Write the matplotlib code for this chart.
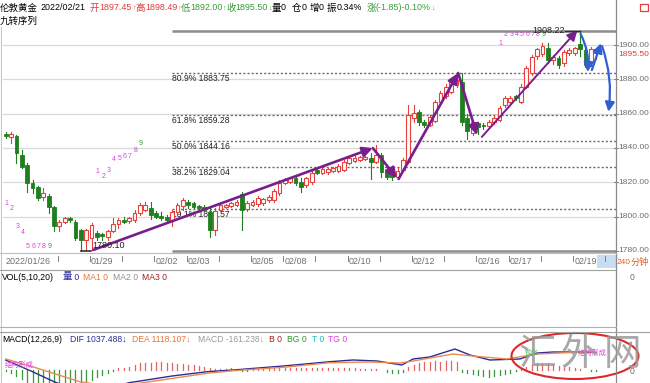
import matplotlib
matplotlib.use('Agg')
import matplotlib.pyplot as plt
from matplotlib import font_manager
from matplotlib.patches import Rectangle, Ellipse
from matplotlib.lines import Line2D

# ---------------- data ----------------
opens = [1848, 1846.5, 1847, 1836, 1830, 1819.7, 1817.2, 1811.3, 1812, 1805.7,
         1794.5, 1797, 1798.9, 1797, 1792, 1786.3, 1787.3, 1790.6, 1789.6, 1788.3,
         1791.5, 1795.6, 1798, 1797.4, 1798, 1801.9, 1804, 1804.8, 1801.9, 1800.3,
         1799.6, 1798, 1802.8, 1806, 1808.6, 1807.8, 1806, 1805.4, 1802.8, 1792.1,
         1803.8, 1805.7, 1806.3, 1806.7, 1813.1, 1804.2, 1806.7, 1807.3, 1807.7, 1809.6,
         1809.6, 1813.5, 1819.7, 1820.3, 1822.3, 1820.3, 1818.4, 1820.3, 1827.1, 1825.5,
         1826, 1826.5, 1826.5, 1827.1, 1831, 1832.5, 1833, 1833.3, 1834, 1832,
         1835.9, 1827.5, 1825.5, 1822.9, 1827.1, 1832, 1857.4, 1860.9, 1855, 1853.4,
         1855.6, 1866.8, 1870.2, 1872.8, 1876.7, 1878.6, 1857.5, 1848.5, 1854.3, 1853.5,
         1852.5, 1855, 1856.3, 1865, 1867, 1870.2, 1867, 1875.7, 1883.5, 1893.6,
         1894.5, 1898, 1891.3, 1892.3, 1889.3, 1895.2, 1895.2, 1900.4, 1897.1, 1888.3,
         1897.45]
highs = [1849, 1849, 1847.5, 1838.8, 1831, 1821.3, 1817.8, 1816.4, 1813, 1806,
         1798, 1799.9, 1799.9, 1798, 1793, 1793, 1796, 1791.5, 1790.2, 1792,
         1799, 1799, 1799.8, 1800, 1803.8, 1808, 1808.5, 1808.6, 1803, 1802.5,
         1800.9, 1803.8, 1808, 1810.6, 1809.6, 1808.6, 1806.7, 1806.5, 1804.8, 1804.8,
         1807.5, 1807.5, 1808.5, 1809.6, 1814.5, 1809, 1809.6, 1812, 1811, 1812.5,
         1816, 1821.3, 1822.3, 1823.3, 1823.3, 1822.3, 1823.3, 1826.5, 1828, 1828.5,
         1828.5, 1829, 1830.4, 1833, 1835, 1835, 1835.5, 1835.5, 1837, 1841.5,
         1837, 1829, 1826.5, 1828, 1834, 1865, 1865, 1862, 1856.3, 1859,
         1868, 1873, 1877, 1879.6, 1883.7, 1883.5, 1860, 1856.3, 1855, 1854.3,
         1856.5, 1858.5, 1864.5, 1870, 1870.2, 1871, 1877, 1888, 1894.2, 1898.5,
         1901, 1901.3, 1894, 1893.5, 1897, 1898, 1899, 1908.22, 1899, 1899,
         1898.49]
lows = [1846, 1843, 1831.2, 1828.3, 1814.5, 1813.5, 1809.6, 1809.6, 1802, 1791.5,
        1791.8, 1796, 1797, 1786.3, 1780.1, 1780.5, 1781.5, 1786.3, 1786.3, 1786.3,
        1791, 1793.3, 1796.4, 1796.4, 1797, 1800.9, 1803, 1798.4, 1799, 1798,
        1797, 1794.2, 1801, 1804, 1805, 1805, 1803.8, 1803, 1788.3, 1789.2,
        1803, 1805, 1805.5, 1806, 1792.1, 1803, 1806, 1806, 1807, 1808.6,
        1808.6, 1812.5, 1819, 1819.7, 1818.4, 1814.5, 1817, 1819, 1824.5, 1824.5,
        1825, 1826, 1826, 1826.5, 1830.4, 1832, 1832.5, 1833, 1822, 1831,
        1823, 1822, 1821, 1821.7, 1826.5, 1831, 1855, 1853.4, 1852, 1852.5,
        1855, 1866, 1869, 1872, 1875.7, 1853.4, 1845, 1847.5, 1848, 1851,
        1851.5, 1854, 1855.5, 1864, 1866, 1868, 1866, 1874.8, 1882.5, 1892,
        1893.5, 1889.3, 1889, 1886.4, 1887.5, 1894, 1894.2, 1893.5, 1887.4, 1888,
        1892]
closes = [1847, 1848.2, 1837, 1829, 1819.3, 1816.4, 1810.6, 1813.5, 1805.7, 1794.5,
          1797, 1798.9, 1798, 1787.3, 1786.5, 1792, 1795, 1788.3, 1788.6, 1791.5,
          1795.6, 1798, 1797, 1799, 1801.9, 1806.7, 1806.5, 1800.9, 1799.6, 1799,
          1798, 1802.8, 1806.5, 1809.6, 1806.7, 1805.7, 1804.8, 1803.8, 1792.1, 1803.2,
          1806.7, 1806.5, 1807.9, 1808.6, 1803.8, 1807.7, 1808.6, 1810.6, 1810, 1811.5,
          1815, 1819.7, 1821.3, 1822.3, 1819.4, 1817.4, 1822.3, 1825.2, 1825.2, 1827.5,
          1827.5, 1828, 1829.4, 1832, 1834, 1834, 1834.5, 1834.5, 1832, 1835.9,
          1826.1, 1823.2, 1822.9, 1826.8, 1832.9, 1859.2, 1860.3, 1855, 1853.4, 1858,
          1866.8, 1872, 1875.7, 1878.6, 1879.6, 1855.3, 1850, 1855.3, 1852, 1852.5,
          1855.3, 1857.4, 1863.3, 1868.9, 1868.9, 1868.9, 1875.7, 1886.4, 1893.2, 1897.5,
          1899.5, 1891.3, 1893, 1888.4, 1896.1, 1897.1, 1898.1, 1897.9, 1888.3, 1897.5,
          1895.5]

first_date = '2022/01/26'
date_ticks = [10, 16, 22, 28, 34, 40, 46, 52, 58, 64, 70, 76, 82, 88, 94, 100, 106, 112]
date_labels = ['', '01/29', '', '02/02', '02/03', '', '02/05', '02/08', '', '02/10',
               '', '02/12', '', '02/16', '02/17', '', '02/19', '']

price_ticks = [1900, 1880, 1860, 1840, 1820, 1800, 1780]
fib_pcts = ['80.9%', '61.8%', '50.0%', '38.2%', '19.1%']
fib_vals = [1883.75, 1859.28, 1844.16, 1829.04, 1804.57]
fib_high, fib_low = 1908.22, 1780.10
high_idx, low_idx = 107, 14
fib_start = 31
last_close = 1895.50

# nine-turn (九转) sequence numbers: candle index, number, label price level
seq_idx = [0, 1, 2, 3, 4, 5, 6, 7, 8,
           17, 18, 19, 20, 21, 22, 23, 24, 25,
           92, 93, 94, 95, 96, 97, 98, 99, 100]
seq_num = [1, 2, 3, 4, 5, 6, 7, 8, 9] * 3
seq_lvl = [1807.3, 1804.4, 1793.9, 1790.4, 1782.5, 1782.8, 1782.8, 1782.8, 1782.8,
           1826.5, 1823.2, 1826.7, 1833.5, 1834.1, 1834.7, 1834.9, 1838.4, 1842.7,
           1900.6, 1906.4, 1906.4, 1906.4, 1906.4, 1906.4, 1906.4, 1906.4, 1906.4]

# drawn trend arrows: (start index, start price, end index, end price)
purple_arrows = [(16.3, 1780.5, 68.4, 1839.9),
                 (68.4, 1839.9, 72.9, 1822.4),
                 (73.2, 1821.9, 84.3, 1883.7),
                 (84.3, 1883.7, 87.8, 1847.5),
                 (88.7, 1846.4, 106.5, 1908.6)]
blue_arrows = [(107.1, 1906.5, 108.4, 1884.3),
               (109.2, 1885.4, 110.9, 1901.0),
               (111.1, 1899.4, 112.3, 1861.1)]

# MACD panel
macd_hist = [-1, -3, -6, -9, -12, -16, -18, -20, -21, -21, -20, -19, -18, -16, -14, -11.7,
             -10, -7.3, -5, -3.3, -0.5,
             1.7, 2.3, 3.3, 5, 6.7, 7.3, 7.3, 7.7, 7.7, 7.3, 6.7, 6, 5.7, 5, 5, 4.3, 2.7,
             2, 1, 1.5, 1.5, 2, 1.5, -1, -1, 1, 1.5, 1.5, 2, 2, 2.5, 2.5, 2.5, 2, 2, 2, 2,
             2.5, 2, 2,
             2, 2, 2, 2, 2, 1.5, 1.5, 1, 1, 0.5, -2, -2.7, -3, -2,
             3, 5, 6.7, 8.3, 8.3, 9.3, 8.3, 9.3, 9.3, 8.3,
             -1.5, -3.3, -4, -5, -6, -6.7, -6, -5, -4, -2.7, -1,
             1.5, 3.3, 5, 7.3, 7.3, 6.7, 5.7, 4, 3.3, 2.7, 1.7, 1, 0.5, -1, -1]
dif_x = [0, 5, 9, 14, 18, 23, 31, 37.5, 42.4, 51.7, 60.4, 64.7, 69.2, 73.8, 75.9, 79,
         83.7, 86.5, 90.2, 95.8, 99, 102, 107, 110]
dif_y = [10, -1.7, -11.7, -22, -20, -12.7, -6, -1.7, 0, 4, 8.3, 10, 9, 5, 11, 13,
         21, 15, 10, 11, 17, 18, 18, 17.5]
dea_x = [0, 5, 13.8, 20, 25.6, 37.5, 42.4, 51.7, 60.4, 67.9, 73.5, 75.9, 83.3, 87,
         93.4, 99, 103.3, 107, 110]
dea_y = [11, 3.3, -11.7, -17, -12.7, -3.3, -0.7, 2.7, 7.3, 8, 7, 9, 16, 14,
         11, 16, 17, 18, 18]

# ---------------- styling ----------------
W, H = 650, 383
RED = '#e8403c'
GRN = '#1f7f1f'
TXT_RED = '#e23b3b'
TXT_GRN = '#3a9a3a'
GRID = '#d9d9d9'
PURPLE = '#7a1d8c'
BLUE = '#2f5fd0'
MAG = '#e040e0'

_names = {f.name for f in font_manager.fontManager.ttflist}
NARROW = 'Liberation Sans Narrow' in _names
LAT = 'Liberation Sans Narrow' if NARROW else 'Liberation Sans'
K = 1.0 if NARROW else 0.84          # keep the same text widths with either font
FAM = [LAT, 'Liberation Sans', 'Noto Sans CJK SC']
plt.rcParams['font.family'] = FAM
FS = 7.4 * K       # general Latin label size
CJ = 6.8           # Chinese characters

fig = plt.figure(figsize=(6.5, 3.83), dpi=100)
fig.patch.set_facecolor('white')
renderer = fig.canvas.get_renderer()


def rect(x0, y0, x1, y1):
    return [x0 / W, 1 - y1 / H, (x1 - x0) / W, (y1 - y0) / H]


def ftext(x, y, s, color='black', size=FS, ha='left', **kw):
    return fig.text(x / W, 1 - y / H, s, color=color, fontsize=size, ha=ha, va='center', **kw)


def segs(x, y, parts):
    """Lay out (text, color, size) parts one after another starting at pixel x."""
    for s, col, sz in parts:
        if s.startswith(' ') and s.strip() == '':
            x += len(s) * 2.5
            continue
        t = ftext(x, y, s, col, sz)
        x += t.get_window_extent(renderer).width
    return x


def fline(x0, y0, x1, y1, color='#a0a0a0', lw=0.8):
    fig.add_artist(Line2D([x0 / W, x1 / W], [1 - y0 / H, 1 - y1 / H], color=color, lw=lw,
                          transform=fig.transFigure))


X0, X1 = 3, 616
XL = (-0.503, 113.7)

# ---------------- main price panel ----------------
ax = fig.add_axes(rect(X0, 27, X1, 253))
ax.set_xlim(*XL)
ax.set_ylim(1778.72, 1910.5)
ax.set_axis_off()

for p in price_ticks[:-1]:
    ax.axhline(p, color=GRID, lw=0.9, zorder=1)

for pct, v in zip(fib_pcts, fib_vals):
    ax.plot([fib_start, XL[1]], [v, v], color='#6a6a6a', lw=1.0, ls=(0, (1.5, 1.5)), zorder=1.5)
    ax.annotate(f'{pct} {v:.2f}', (fib_start, v), xytext=(0, -0.6), textcoords='offset points',
                fontsize=FS, color='#222222', ha='left', va='top', zorder=2)
for v in (fib_high, fib_low):
    ax.plot([fib_start, XL[1]], [v, v], color='#8c8c8c', lw=1.8, zorder=1.5, solid_capstyle='butt')

# high / low markers
ax.plot([high_idx - 2.8, high_idx], [fib_high, fib_high], color='#303030', lw=1.0, zorder=6)
ax.text(high_idx - 2.8, fib_high, f'{fib_high:.2f}', fontsize=FS + 0.3, color='#222222',
        ha='right', va='center', zorder=6)
ax.plot([low_idx, low_idx + 1.9], [fib_low, fib_low], color='#303030', lw=1.2, zorder=6)
ax.text(low_idx + 2.2, fib_low + 0.6, f'{fib_low:.2f}', fontsize=FS + 0.3, color='#222222',
        ha='left', va='bottom', zorder=6)

# candles
bw = 0.7
for i, (o, h, l, c) in enumerate(zip(opens, highs, lows, closes)):
    up = c >= o
    top, bot = max(o, c), min(o, c)
    if up:
        ax.plot([i, i], [top, h], color=RED, lw=0.8, zorder=3)
        ax.plot([i, i], [l, bot], color=RED, lw=0.8, zorder=3)
        ax.add_patch(Rectangle((i - bw / 2, bot), bw, max(top - bot, 0.25), facecolor='white',
                               edgecolor=RED, lw=0.8, zorder=3.2))
    else:
        ax.plot([i, i], [l, h], color=GRN, lw=0.8, zorder=3)
        ax.add_patch(Rectangle((i - bw / 2, bot), bw, max(top - bot, 0.35), facecolor=GRN,
                               edgecolor=GRN, lw=0.6, zorder=3.2))

# nine-turn numbers
for i, n, lv in zip(seq_idx, seq_num, seq_lvl):
    ax.text(i - 0.2, lv, str(n), fontsize=6.0 * K, color=(TXT_GRN if n == 9 else MAG),
            ha='left', va='center', zorder=4)

# purple trend arrows
for k, (xa, ya, xb, yb) in enumerate(purple_arrows):
    lw = 1.4 if k == 4 else 1.9
    ax.annotate('', xy=(xb, yb), xytext=(xa, ya),
                arrowprops=dict(arrowstyle='-|>,head_length=0.6,head_width=0.3', color=PURPLE,
                                lw=lw, shrinkA=0, shrinkB=0), zorder=5)
# blue projection arrows
rads = [-0.15, 0.0, -0.12]
for (xa, ya, xb, yb), r in zip(blue_arrows, rads):
    ax.annotate('', xy=(xb, yb), xytext=(xa, ya),
                arrowprops=dict(arrowstyle='-|>,head_length=0.55,head_width=0.28', color=BLUE,
                                lw=1.6, shrinkA=0, shrinkB=0, connectionstyle=f'arc3,rad={r}'),
                zorder=5, annotation_clip=False)

# right price labels
yt = ax.get_yaxis_transform()
PS = 7.5 * K if NARROW else 6.1
for p in price_ticks:
    ax.text(1.0 + 2.5 / 613, p, f'{p:.2f}', transform=yt, fontsize=PS, color='#6e6e6e',
            ha='left', va='center', clip_on=False)
    ax.plot([1.0 - 2 / 613, 1.0 + 2 / 613], [p, p], transform=yt, color='#888888', lw=0.8,
            clip_on=False)
ax.text(1.0 + 2.5 / 613, last_close - 0.8, f'{last_close:.2f}', transform=yt, fontsize=PS,
        color=TXT_RED, ha='left', va='center', clip_on=False)

# ---------------- date strip ----------------
axd = fig.add_axes(rect(X0, 253, X1, 270))
axd.set_xlim(*XL)
axd.set_ylim(0, 1)
axd.set_axis_off()
axd.add_patch(Rectangle((110.2, 0.12), 3.5, 0.76, facecolor='#c9ddf2', edgecolor='none'))
axd.text(0.0, 0.5, first_date, fontsize=FS + 0.3 * K, color='#707070', ha='left', va='center')
for t, lab in zip(date_ticks, date_labels):
    axd.plot([t - 0.3, t - 0.3], [0.55, 0.8], color='#808080', lw=0.7)
    if lab:
        axd.text(t - 0.1, 0.5, lab, fontsize=FS + 0.3 * K, color='#707070', ha='left',
                 va='center')

# ---------------- VOL panel ----------------
axv = fig.add_axes(rect(X0, 270, X1, 327))
axv.set_axis_off()

# ---------------- MACD panel ----------------
axm = fig.add_axes(rect(X0, 332, X1, 383))
axm.set_xlim(*XL)
axm.set_ylim(-13, 38)
axm.set_axis_off()
for i, v in enumerate(macd_hist):
    axm.plot([i, i], [0, v], color=('#e06464' if v > 0 else '#3c963c'), lw=0.9, zorder=2)
axm.plot(dif_x, dif_y, color='#2c2c96', lw=1.0, zorder=3)
axm.plot(dea_x, dea_y, color='#ea8a50', lw=1.0, zorder=3)

# ---------------- frame lines ----------------
fline(616, 0, 616, 383, '#8a8a8a', 0.9)
fline(1, 27, 1, 383, '#c8c8c8', 0.8)
fline(0, 253, 616, 253, '#bdbdbd', 0.8)
fline(0, 270, 616, 270, '#a0a0a0', 0.8)
fline(0, 327, 616, 327, '#b0b0b0', 0.8)
fline(0, 332, 650, 332, '#a0a0a0', 0.8)

# ---------------- header ----------------
NU = 7.6 * K   # size for numbers in the header
AR = 5.0       # size for the small arrows
segs(0, 8, [('伦敦黄金', 'black', CJ)])
segs(40.5, 8, [('2022/02/21', 'black', 7.6 * K)])
segs(90, 8, [('开', TXT_RED, CJ), ('1897.45', TXT_RED, NU), ('↑', TXT_RED, AR),
             ('高', TXT_RED, CJ), ('1898.49', TXT_RED, NU), ('↑', TXT_RED, AR),
             ('低', TXT_GRN, CJ), ('1892.00', TXT_GRN, NU), ('↑', TXT_GRN, AR),
             ('收', TXT_GRN, CJ), ('1895.50', TXT_GRN, NU), ('↓', TXT_GRN, AR)])
xq = segs(271.5, 8, [('量', 'black', CJ), ('0', 'black', NU)])
xq = segs(max(xq + 5, 292), 8, [('仓', 'black', CJ), ('0', 'black', NU)])
xq = segs(xq + 3, 8, [('增', 'black', CJ), ('0', 'black', NU)])
xq = segs(xq + 3, 8, [('振', 'black', CJ), ('0.34%', 'black', NU)])
segs(max(xq + 3, 366.5), 8, [('涨', TXT_GRN, CJ), ('(-1.85)-0.10%', TXT_GRN, NU),
                             ('↓', TXT_GRN, AR)])
ftext(0, 21, '九转序列', size=CJ)
fig.add_artist(Rectangle((640 / W, 1 - 11 / H), 8 / W, 7 / H, transform=fig.transFigure,
                         fill=False, edgecolor='#e04040', lw=0.9))

# right-side extra labels
segs(616.5, 262, [('240', '#e0602a', 7.2 * K), ('分钟', '#e0602a', 6.6)])
ftext(630, 278, '0', '#707070')
ftext(630, 371, '0', '#707070')

# VOL legend
LS = 7.4 * K
segs(2, 277, [('VOL(5,10,20)', 'black', LS)])
segs(62.5, 277, [('量', '#2b2b9a', CJ), (' 0', '#2b2b9a', LS)])
segs(83, 277, [('MA1 0', '#e8743c', LS)])
segs(113, 277, [('MA2 0', '#909090', LS)])
segs(142, 277, [('MA3 0', '#a02020', LS)])

# MACD legend
segs(2.5, 339, [('MACD(12,26,9)', 'black', LS)])
segs(70.5, 339, [('DIF 1037.488↓', '#2b2b9a', LS)])
segs(132.5, 339, [('DEA 1118.107↓', '#e8743c', LS)])
segs(198, 339, [('MACD -161.238↓', '#9a9a9a', LS)])
segs(269, 339, [('B 0', '#a02020', LS)])
segs(287, 339, [('BG 0', '#2a9a2a', LS)])
segs(312, 339, [('T 0', '#20c0c0', LS)])
segs(328, 339, [('TG 0', MAG, LS)])
ftext(5, 365, '结构形成', MAG, size=5.2)
ftext(525, 353, '钝化', '#40c040', size=5.0)
ftext(578, 353, '结构形成', MAG, size=5.2)

# watermark
for xc, ch in zip((537, 579, 622), '汇外网'):
    fig.text(xc / W, 1 - 354 / H, ch, fontsize=27, color='#9a9a9a', ha='center', va='center',
             family=['Noto Sans CJK SC'], fontweight='light', alpha=0.85)
fig.add_artist(Ellipse((575 / W, 1 - 356 / H), 127 / W, 46 / H, transform=fig.transFigure,
                       fill=False, edgecolor='#e02828', lw=1.5))

fig.savefig('out.png', dpi=100, facecolor='white')
